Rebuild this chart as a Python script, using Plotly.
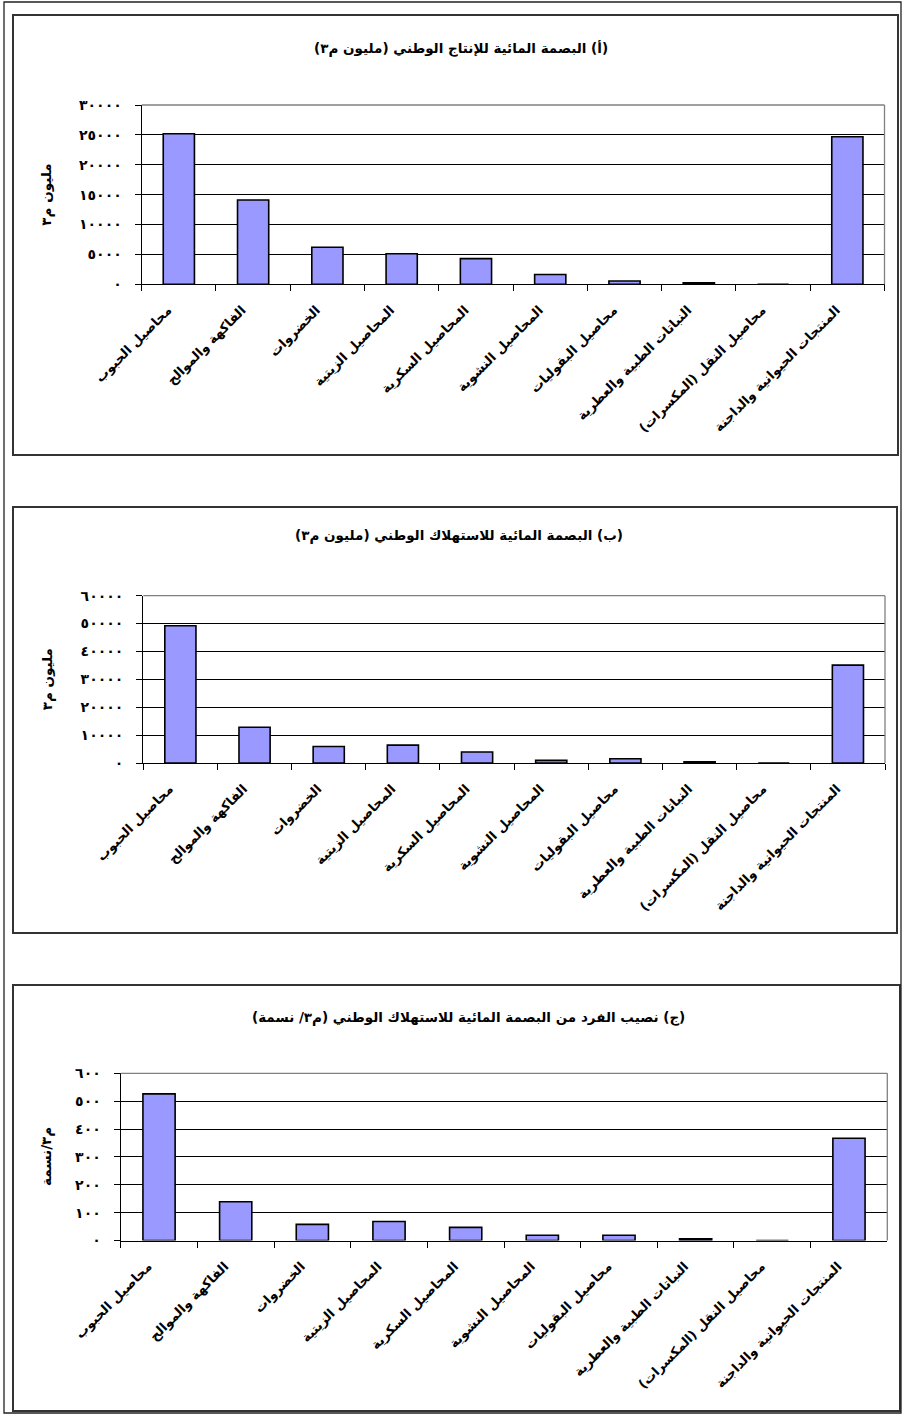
import plotly.graph_objects as go

W, H = 904, 1416

categories = [
    "محاصيل الحبوب",
    "الفاكهة والموالح",
    "الخضروات",
    "المحاصيل الزيتية",
    "المحاصيل السكرية",
    "المحاصيل النشوية",
    "محاصيل البقوليات",
    "النباتات الطبية والعطرية",
    "محاصيل النقل (المكسرات)",
    "المنتجات الحيوانية والداجنة",
]

# water footprint of national production (million m3)
production = [25200, 14100, 6200, 5100, 4300, 1650, 550, 250, 0, 24700]
# water footprint of national consumption (million m3)
consumption = [49200, 12800, 5900, 6400, 3950, 950, 1550, 450, 0, 35100]
# per-capita share of the consumption footprint (m3/capita)
per_capita = [526, 139, 58, 68, 47, 19, 19, 6, 0, 367]

prod_ticks = [0, 5000, 10000, 15000, 20000, 25000, 30000]
cons_ticks = [0, 10000, 20000, 30000, 40000, 50000, 60000]
cap_ticks = [0, 100, 200, 300, 400, 500, 600]

titles = [
    "(أ) البصمة المائية للإنتاج الوطني (مليون م٣)",
    "(ب) البصمة المائية للاستهلاك الوطني (مليون م٣)",
    "(ج) نصيب الفرد من البصمة المائية للاستهلاك الوطني (م٣/ نسمة)",
]
y_titles = ["مليون م٣", "مليون م٣", "م٣/نسمة"]

FONT = "DejaVu Sans"
AR_DIGITS = str.maketrans("0123456789", "٠١٢٣٤٥٦٧٨٩")
RLM = "\u200f"


def ar(n):
    return str(n).translate(AR_DIGITS)


def rtl(s):
    # right-to-left marks so brackets and digits sit in Arabic order
    return RLM + s + RLM


def px(x):
    return x / W


def py(y):
    return 1 - y / H


# plot areas in pixels: (left, right, top, bottom)
areas = [
    (141.7, 884.5, 105.0, 284.3),
    (143.3, 885.0, 595.7, 763.0),
    (120.7, 887.3, 1073.3, 1240.5),
]
# outer frame of each chart
frames = [
    (13, 898, 15, 455),
    (13, 897, 507, 933),
    (13, 900, 985, 1411),
]
title_pos = [(461, 48), (459, 536), (468, 1017)]

series = [production, consumption, per_capita]
ticks = [prod_ticks, cons_ticks, cap_ticks]

fig = go.Figure()
shapes = []
annotations = []

for i in range(3):
    n = "" if i == 0 else str(i + 1)
    xa, ya = "x" + n, "y" + n
    l, r, t, b = areas[i]
    fig.add_trace(go.Bar(
        x=[rtl(c) for c in categories], y=series[i], xaxis=xa, yaxis=ya,
        marker=dict(color="#9999FF", line=dict(color="black", width=1.6)),
        width=0.42, showlegend=False,
    ))
    fig.layout["xaxis" + n] = dict(
        domain=[px(l), px(r)], anchor=ya, automargin=False,
        type="category", tickson="boundaries",
        ticks="outside", ticklen=6, tickcolor="black", tickwidth=1,
        showline=True, linecolor="black", linewidth=1.3,
        showgrid=False, zeroline=False, tickangle=-45,
        ticklabelstandoff=12, ticklabelshift=-11,
        tickfont=dict(family=FONT, size=13, color="black", weight="bold"),
        fixedrange=True,
    )
    fig.layout["yaxis" + n] = dict(
        domain=[py(b), py(t)], anchor=xa, automargin=False,
        range=[0, ticks[i][-1]],
        tickvals=ticks[i], ticktext=[ar(v) for v in ticks[i]],
        ticks="outside", ticklen=6, tickcolor="black", tickwidth=1,
        showline=True, linecolor="black", linewidth=1.3,
        showgrid=True, gridcolor="black", gridwidth=1,
        zeroline=False, ticklabelstandoff=10,
        tickfont=dict(family=FONT, size=14, color="black", weight="bold"),
        fixedrange=True,
    )
    # grey plot-area border on the top and right sides
    shapes.append(dict(type="line", xref="paper", yref="paper",
                       x0=px(l), x1=px(r), y0=py(t), y1=py(t),
                       line=dict(color="#808080", width=1.3)))
    shapes.append(dict(type="line", xref="paper", yref="paper",
                       x0=px(r), x1=px(r), y0=py(t), y1=py(b),
                       line=dict(color="#808080", width=1.3)))
    fl, fr, ft, fb = frames[i]
    shapes.append(dict(type="rect", xref="paper", yref="paper",
                       x0=px(fl), x1=px(fr), y0=py(fb), y1=py(ft),
                       line=dict(color="#333333", width=2)))
    tx, ty = title_pos[i]
    annotations.append(dict(
        text=rtl(titles[i]), xref="paper", yref="paper",
        x=px(tx), y=py(ty), xanchor="center", yanchor="middle",
        showarrow=False,
        font=dict(family=FONT, size=13.5, color="black", weight="bold"),
    ))
    annotations.append(dict(
        text=rtl(y_titles[i]), xref="paper", yref="paper",
        x=px(47), y=py((t + b) / 2), xanchor="center", yanchor="middle",
        textangle=-90, showarrow=False,
        font=dict(family=FONT, size=13.5, color="black", weight="bold"),
    ))

# outer border around the whole page
shapes.append(dict(type="rect", xref="paper", yref="paper",
                   x0=px(4), x1=px(901), y0=py(1413), y1=py(2),
                   line=dict(color="#222222", width=1.3)))

fig.update_layout(
    template="none",
    width=W, height=H, autosize=False,
    margin=dict(l=0, r=0, t=0, b=0, autoexpand=False),
    paper_bgcolor="white", plot_bgcolor="white",
    shapes=shapes, annotations=annotations,
    bargap=0.58, showlegend=False,
)

fig.write_html("out.html", config={"displayModeBar": False})
